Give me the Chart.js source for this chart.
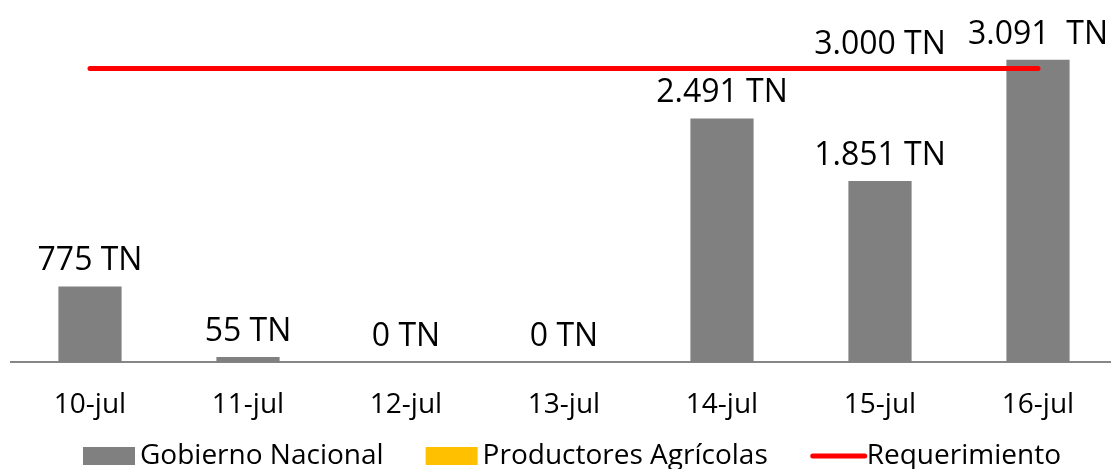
<!DOCTYPE html>
<html>
<head>
<meta charset="utf-8">
<script src="https://cdn.jsdelivr.net/npm/chart.js@4/dist/chart.umd.min.js"></script>
<style>
html,body{margin:0;padding:0;background:#fff;overflow:hidden;}
#wrap{width:1117px;height:469px;}
</style>
</head>
<body>
<div id="wrap"><canvas id="c" width="1117" height="469"></canvas></div>
<script>
const categories = ["10-jul","11-jul","12-jul","13-jul","14-jul","15-jul","16-jul"];
const gobiernoNacional = [775, 55, 0, 0, 2491, 1851, 3091];
const productoresAgricolas = [0, 0, 0, 0, 0, 0, 0];
const requerimiento = [3000, 3000, 3000, 3000, 3000, 3000, 3000];
const gobiernoLabels = ["775 TN","55 TN","0 TN","0 TN","2.491 TN","1.851 TN","3.091  TN"];
const requerimientoLabel = "3.000 TN";
const requerimientoLabelIndex = 5;

const FONT = "'Open Sans', 'DejaVu Sans', sans-serif";

const labelPlugin = {
  id: 'valueLabels',
  afterDatasetsDraw(chart) {
    const ctx = chart.ctx;
    ctx.save();
    ctx.font = "32px " + FONT;
    ctx.fillStyle = "#000";
    ctx.textAlign = "center";
    ctx.textBaseline = "alphabetic";
    const m0 = chart.getDatasetMeta(0);
    m0.data.forEach((bar, i) => {
      ctx.fillText(gobiernoLabels[i], bar.x, bar.y - 16);
    });
    const m2 = chart.getDatasetMeta(2);
    const pt = m2.data[requerimientoLabelIndex];
    ctx.fillText(requerimientoLabel, pt.x, pt.y - 15);
    ctx.restore();
  }
};

const legendPlugin = {
  id: 'customLegend',
  afterDraw(chart) {
    const ctx = chart.ctx;
    ctx.save();
    ctx.font = "28px " + FONT;
    ctx.textBaseline = "alphabetic";
    ctx.textAlign = "left";
    const items = chart.data.datasets.map(d => ({text: d.label, color: d.legendColor, line: d.type === 'line'}));
    let x = chart.chartArea.left + 72;
    const cy = 456;
    items.forEach((it, i) => {
      if (it.line) {
        ctx.strokeStyle = it.color;
        ctx.lineWidth = 5;
        ctx.lineCap = "round";
        ctx.beginPath();
        ctx.moveTo(x + 3, cy);
        ctx.lineTo(x + 55, cy);
        ctx.stroke();
      } else {
        ctx.fillStyle = it.color;
        ctx.fillRect(x, cy - 9, 52, 18);
      }
      x += 57;
      ctx.fillStyle = "#000";
      ctx.fillText(it.text, x, 464);
      x += ctx.measureText(it.text).width + 42;
    });
    ctx.restore();
  }
};

new Chart(document.getElementById('c'), {
  data: {
    labels: categories,
    datasets: [
      {type: 'bar', label: 'Gobierno Nacional', data: gobiernoNacional, backgroundColor: '#808080', legendColor: '#808080',
       grouped: false, barPercentage: 0.4, categoryPercentage: 1.0, order: 2},
      {type: 'bar', label: 'Productores Agrícolas', data: productoresAgricolas, backgroundColor: '#FFC000', legendColor: '#FFC000',
       grouped: false, barPercentage: 0.4, categoryPercentage: 1.0, order: 1},
      {type: 'line', label: 'Requerimiento', data: requerimiento, borderColor: '#FF0000', legendColor: '#FF0000',
       borderWidth: 5, borderCapStyle: 'round', pointRadius: 0, pointHoverRadius: 0, tension: 0, fill: false, order: 0}
    ]
  },
  options: {
    responsive: false,
    animation: false,
    devicePixelRatio: 1,
    layout: {padding: {left: 11, right: 0, top: 0, bottom: 21}},
    plugins: {legend: {display: false}, tooltip: {enabled: false}},
    scales: {
      x: {
        grid: {display: false, drawTicks: false},
        border: {display: true, color: '#868686', width: 2},
        ticks: {color: '#000', font: {family: FONT, size: 28}, padding: 26, maxRotation: 0, autoSkip: false}
      },
      y: {display: false, min: 0, max: 3700}
    }
  },
  plugins: [labelPlugin, legendPlugin]
});
</script>
</body>
</html>
